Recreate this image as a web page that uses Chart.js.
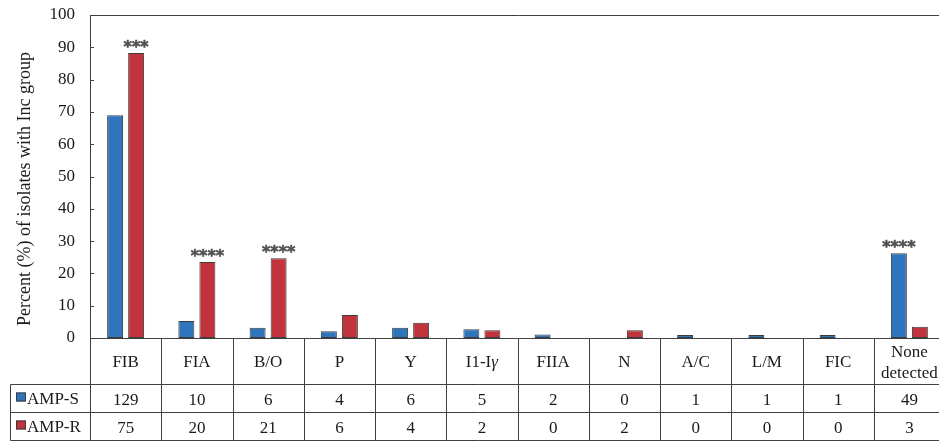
<!DOCTYPE html>
<html>
<head>
<meta charset="utf-8">
<script src="https://cdn.jsdelivr.net/npm/chart.js@4"></script>
<style>
html,body{margin:0;padding:0;background:#fff;overflow:hidden;}
#wrap{width:946px;height:441px;position:relative;}
</style>
</head>
<body>
<div id="wrap"><canvas id="c"></canvas></div>
<script>
// ---- data ----
const categories = ['FIB','FIA','B/O','P','Y','I1-Iγ','FIIA','N','A/C','L/M','FIC','None detected'];
const seriesNames = ['AMP-S','AMP-R'];
const ampSPercent = [69.0, 5.3, 3.2, 2.1, 3.2, 2.7, 1.1, 0, 0.9, 0.9, 0.9, 26.2];
const ampRPercent = [88.2, 23.5, 24.7, 7.1, 4.7, 2.4, 0, 2.4, 0, 0, 0, 3.5];
const ampSCounts = [129, 10, 6, 4, 6, 5, 2, 0, 1, 1, 1, 49];
const ampRCounts = [75, 20, 21, 6, 4, 2, 0, 2, 0, 0, 0, 3];
const sigLabels = ['***','****','****','','','','','','','','','****'];
const sigSeries = [1, 1, 1, 0, 0, 0, 0, 0, 0, 0, 0, 0];
const yTicks = [0,10,20,30,40,50,60,70,80,90,100];
const yTitle = 'Percent (%) of isolates with Inc group';

const BLUE = '#2e75be';
const RED = '#c1343b';
const EDGE = '#3c3c3c';
const LINE = '#404040';
const TXT = '#1a1a1a';
const FONT = "'Liberation Serif', 'DejaVu Serif', serif";

const toBar = v => v === 0 ? null : v;

const tablePlugin = {
  id: 'tablePlugin',
  afterDraw(chart) {
    const {ctx, chartArea: a, scales: {x, y}} = chart;
    const n = categories.length;
    const colW = (a.right - a.left) / n;
    const r0 = Math.round(a.bottom) + 0.5;
    const r1 = r0 + 46, r2 = r1 + 28, r3 = r2 + 28;
    const tblLeft = 10.5;
    ctx.save();
    ctx.strokeStyle = LINE;
    ctx.lineWidth = 1;
    const ln = (x1, y1, x2, y2) => { ctx.beginPath(); ctx.moveTo(x1, y1); ctx.lineTo(x2, y2); ctx.stroke(); };
    // top frame line
    ln(a.left, Math.round(a.top) + 0.5, a.right + 2, Math.round(a.top) + 0.5);
    // inward tick marks
    yTicks.forEach(t => {
      const py = Math.round(y.getPixelForValue(t)) + 0.5;
      ln(a.left, py, a.left + 4, py);
    });
    // table horizontal lines
    ln(a.left, r0, a.right + 2, r0);
    ln(tblLeft, r1, a.right + 2, r1);
    ln(tblLeft, r2, a.right + 2, r2);
    ln(tblLeft, r3, a.right + 2, r3);
    ln(tblLeft, r1, tblLeft, r3);
    for (let i = 0; i <= n; i++) {
      const px = Math.round(a.left + i * colW) + 0.5;
      ln(px, r0, px, r3);
    }
    // text
    ctx.fillStyle = TXT;
    ctx.textAlign = 'center';
    ctx.textBaseline = 'middle';
    ctx.font = '17px ' + FONT;
    categories.forEach((c, i) => {
      const cx = x.getPixelForValue(i);
      if (c === 'None detected') {
        ctx.fillText('None', cx, r0 + 14);
        ctx.fillText('detected', cx, r0 + 35);
      } else if (c.endsWith('γ')) {
        const base = c.slice(0, -1);
        ctx.font = '17px ' + FONT;
        const w1 = ctx.measureText(base).width;
        ctx.font = 'italic 17px ' + FONT;
        const w2 = ctx.measureText('γ').width;
        const sx = cx - (w1 + w2) / 2;
        ctx.textAlign = 'left';
        ctx.font = '17px ' + FONT;
        ctx.fillText(base, sx, r0 + 24);
        ctx.font = 'italic 17px ' + FONT;
        ctx.fillText('γ', sx + w1, r0 + 24);
        ctx.textAlign = 'center';
        ctx.font = '17px ' + FONT;
      } else {
        ctx.fillText(c, cx, r0 + 24);
      }
      ctx.fillText(String(ampSCounts[i]), cx, (r1 + r2) / 2 + 2);
      ctx.fillText(String(ampRCounts[i]), cx, (r2 + r3) / 2 + 2);
    });
    // row labels with swatches
    const rows = [[r1, r2, BLUE, seriesNames[0]], [r2, r3, RED, seriesNames[1]]];
    rows.forEach(([t, b, col, name]) => {
      const cy = (t + b) / 2;
      ctx.fillStyle = col;
      ctx.fillRect(16, cy - 6, 10, 9);
      ctx.strokeStyle = EDGE;
      ctx.strokeRect(16.5, cy - 5.5, 9, 8);
      ctx.fillStyle = TXT;
      ctx.textAlign = 'left';
      ctx.font = '17px ' + FONT;
      ctx.fillText(name, 27, cy + 1);
    });
    // significance stars
    ctx.fillStyle = '#505050';
    ctx.strokeStyle = '#505050';
    ctx.lineWidth = 0.6;
    ctx.textAlign = 'center';
    ctx.textBaseline = 'alphabetic';
    ctx.font = 'bold 16px "DejaVu Sans", sans-serif';
    sigLabels.forEach((s, i) => {
      if (!s) return;
      const bar = chart.getDatasetMeta(sigSeries[i]).data[i];
      ctx.fillText(s, bar.x, bar.y - 1);
      ctx.strokeText(s, bar.x, bar.y - 1);
    });
    // y axis title
    ctx.save();
    ctx.translate(25, 189);
    ctx.rotate(-Math.PI / 2);
    ctx.fillStyle = TXT;
    ctx.textAlign = 'center';
    ctx.textBaseline = 'middle';
    ctx.font = '18px ' + FONT;
    ctx.fillText(yTitle, 0, 0);
    ctx.restore();
    ctx.restore();
  }
};

new Chart(document.getElementById('c'), {
  type: 'bar',
  data: {
    labels: categories,
    datasets: [
      {label: seriesNames[0], data: ampSPercent.map(toBar), backgroundColor: BLUE, borderColor: EDGE, borderWidth: 1, borderSkipped: false, barPercentage: 0.76, categoryPercentage: 0.59},
      {label: seriesNames[1], data: ampRPercent.map(toBar), backgroundColor: RED, borderColor: EDGE, borderWidth: 1, borderSkipped: false, barPercentage: 0.76, categoryPercentage: 0.59}
    ]
  },
  options: {
    responsive: true,
    maintainAspectRatio: false,
    animation: false,
    layout: {padding: {left: 0, right: 1, top: 15, bottom: 103}},
    plugins: {legend: {display: false}, tooltip: {enabled: false}},
    scales: {
      x: {display: false},
      y: {
        min: 0, max: 100,
        afterFit: s => { s.width = 90; s.paddingTop = 0; s.paddingBottom = 0; },
        afterBuildTicks: s => { s.ticks = yTicks.map(v => ({value: v})); },
        grid: {display: false},
        border: {display: true, color: LINE, width: 1},
        ticks: {padding: 7, color: TXT, font: {family: FONT, size: 17}}
      }
    }
  },
  plugins: [tablePlugin]
});
</script>
</body>
</html>
